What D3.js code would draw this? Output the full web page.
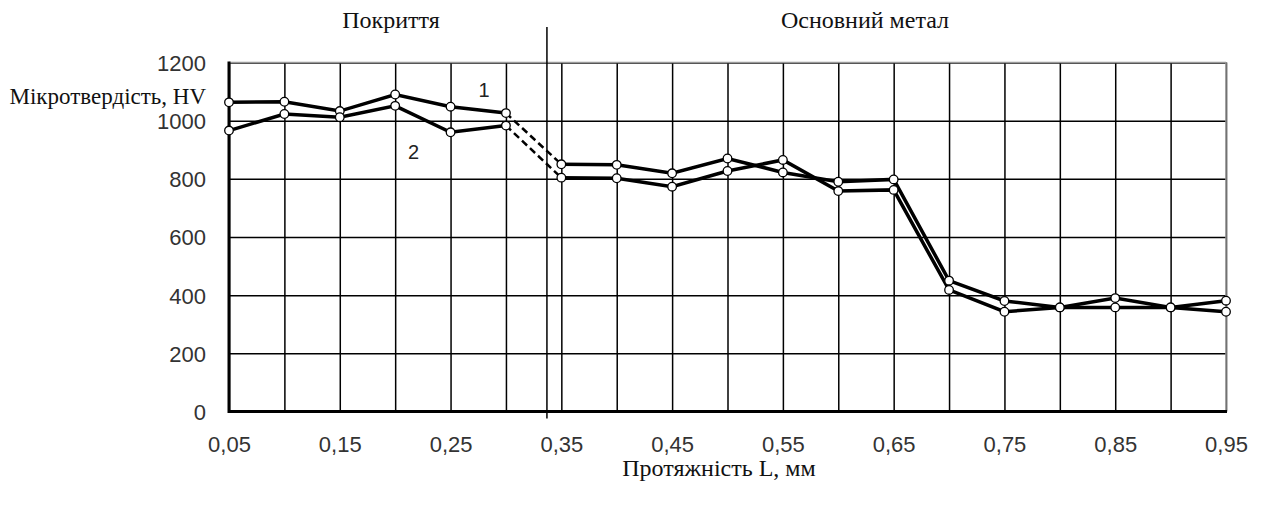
<!DOCTYPE html>
<html>
<head>
<meta charset="utf-8">
<script src="https://cdn.jsdelivr.net/npm/d3@7"></script>
<style>
  body { margin: 0; background: #fff; }
  text { fill: #222; }
  .serif { font-family: "Liberation Serif", "Times New Roman", serif; font-size: 24px; fill: #111; }
  .tick text { font-family: "Liberation Sans", Arial, sans-serif; font-size: 22px; fill: #333; }
</style>
</head>
<body>
<svg id="chart" width="1264" height="508"></svg>
<script>
// distance along the sample, mm
const positions = [0.05, 0.10, 0.15, 0.20, 0.25, 0.30, 0.35, 0.40, 0.45, 0.50,
                   0.55, 0.60, 0.65, 0.70, 0.75, 0.80, 0.85, 0.90, 0.95];
// microhardness HV, curve 1 and curve 2
const series1 = [1063, 1065, 1033, 1090, 1048, 1026, 850, 848, 819, 870,
                 822, 790, 798, 450, 380, 358, 390, 358, 381];
const series2 = [966, 1023, 1012, 1051, 960, 983, 804, 802, 773, 827,
                 865, 758, 762, 418, 343, 358, 358, 358, 343];
const xLabels = [0.05, 0.15, 0.25, 0.35, 0.45, 0.55, 0.65, 0.75, 0.85, 0.95];
const yTicks = [0, 200, 400, 600, 800, 1000, 1200];
const boundary = 0.337; // coating / base metal border
const dashedFrom = 0.30; // segment 0.30 -> 0.35 drawn dashed

const svg = d3.select("#chart");
const plotLeft = 229, plotRight = 1226, plotTop = 62.5, plotBottom = 411.5;

const x = d3.scaleLinear().domain([0.05, 0.95]).range([plotLeft, plotRight]);
const y = d3.scaleLinear().domain([0, 1200]).range([plotBottom, plotTop]);

// grid
svg.append("g")
  .attr("transform", `translate(0,${plotBottom})`)
  .call(d3.axisBottom(x).tickValues(positions).tickSize(-(plotBottom - plotTop)).tickFormat(""))
  .call(g => g.select(".domain").remove())
  .call(g => g.selectAll("line").attr("stroke", "#000").attr("stroke-width", 1.5));

svg.append("g")
  .attr("transform", `translate(${plotLeft},0)`)
  .call(d3.axisLeft(y).tickValues(yTicks).tickSize(-(plotRight - plotLeft)).tickFormat(""))
  .call(g => g.select(".domain").remove())
  .call(g => g.selectAll("line").attr("stroke", "#000").attr("stroke-width", 1.5));

// frame: grey top/right, heavy left/bottom
svg.append("line").attr("x1", plotLeft).attr("x2", plotRight).attr("y1", plotTop).attr("y2", plotTop)
  .attr("stroke", "#999").attr("stroke-width", 1.5);
svg.append("line").attr("x1", plotRight).attr("x2", plotRight).attr("y1", plotTop).attr("y2", plotBottom)
  .attr("stroke", "#999").attr("stroke-width", 1.5);
svg.append("line").attr("x1", plotLeft).attr("x2", plotLeft).attr("y1", plotTop - 1).attr("y2", plotBottom + 1.5)
  .attr("stroke", "#000").attr("stroke-width", 3);
svg.append("line").attr("x1", plotLeft).attr("x2", plotRight + 1).attr("y1", plotBottom).attr("y2", plotBottom)
  .attr("stroke", "#000").attr("stroke-width", 3);

// tick labels
svg.append("g")
  .attr("transform", `translate(0,${plotBottom + 22})`)
  .call(d3.axisBottom(x).tickValues(xLabels).tickSize(0)
    .tickFormat(d => d3.format(".2f")(d).replace(".", ",")))
  .call(g => g.select(".domain").remove());

svg.append("g")
  .attr("transform", `translate(${plotLeft - 20},0)`)
  .call(d3.axisLeft(y).tickValues(yTicks).tickSize(0).tickFormat(d3.format("d")))
  .call(g => g.select(".domain").remove())
  .call(g => g.selectAll("text").attr("dy", "0.36em"));

// boundary line between coating and base metal
svg.append("line")
  .attr("x1", x(boundary)).attr("x2", x(boundary))
  .attr("y1", 27).attr("y2", plotBottom + 7)
  .attr("stroke", "#000").attr("stroke-width", 1.5);

// curves
const line = d3.line().x(d => x(d[0])).y(d => y(d[1]));

[series1, series2].forEach(vals => {
  const pts = positions.map((p, i) => [p, vals[i]]);
  const cut = positions.indexOf(dashedFrom);
  svg.append("path").datum(pts.slice(0, cut + 1))
    .attr("d", line).attr("fill", "none").attr("stroke", "#000").attr("stroke-width", 3.5);
  svg.append("path").datum(pts.slice(cut, cut + 2))
    .attr("d", line).attr("fill", "none").attr("stroke", "#000").attr("stroke-width", 2.5)
    .attr("stroke-dasharray", "7,4");
  svg.append("path").datum(pts.slice(cut + 1))
    .attr("d", line).attr("fill", "none").attr("stroke", "#000").attr("stroke-width", 3.5);
});

[series1, series2].forEach(vals => {
  svg.append("g").selectAll("circle")
    .data(positions.map((p, i) => [p, vals[i]]))
    .join("circle")
    .attr("cx", d => x(d[0])).attr("cy", d => y(d[1]))
    .attr("r", 4.3)
    .attr("fill", "#fff").attr("stroke", "#000").attr("stroke-width", 1.3);
});

// curve numbers
svg.append("text").attr("x", x(0.3) - 22).attr("y", y(series1[5]) - 16)
  .attr("text-anchor", "middle")
  .style("font-family", "Liberation Sans, Arial, sans-serif").style("font-size", "20px")
  .text("1");
svg.append("text").attr("x", x(0.25) - 37).attr("y", y(series2[4]) + 27)
  .attr("text-anchor", "middle")
  .style("font-family", "Liberation Sans, Arial, sans-serif").style("font-size", "20px")
  .text("2");

// titles
svg.append("text").attr("class", "serif").attr("x", 206).attr("y", 104)
  .attr("text-anchor", "end").style("font-size", "23px").text("Мікротвердість, HV");
svg.append("text").attr("class", "serif").attr("x", 391).attr("y", 28)
  .attr("text-anchor", "middle").text("Покриття");
svg.append("text").attr("class", "serif").attr("x", 865).attr("y", 28)
  .attr("text-anchor", "middle").text("Основний метал");
svg.append("text").attr("class", "serif").attr("x", 719).attr("y", 476)
  .attr("text-anchor", "middle").text("Протяжність L, мм");
</script>
</body>
</html>
